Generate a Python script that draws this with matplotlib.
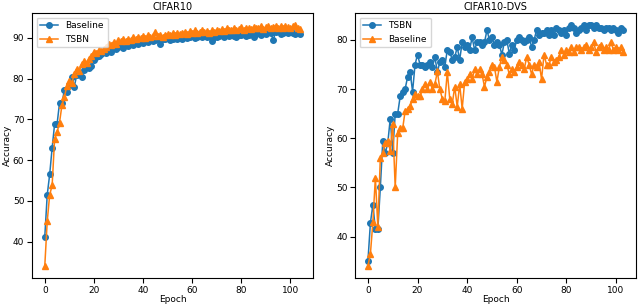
import numpy as np
import matplotlib
matplotlib.use('Agg')
import matplotlib.pyplot as plt

# CIFAR10 (left panel)
c10_baseline = [41.2, 51.5, 56.5, 63, 68.8, 68.8, 74, 74, 77.2, 76.8,
                78.5, 80.5, 78, 80.8, 81, 80.5, 82, 82.8, 82.5, 83.2,
                84.5, 85.2, 85.5, 86, 86.8, 86.2, 87, 86.5, 87.5, 87.2,
                87.8, 88, 87.5, 88.2, 88, 88.5, 88.2, 88.8, 88.5, 89,
                88.8, 89.2, 89, 89.5, 89.2, 89.4, 89.8, 88.6, 89.6, 89.8,
                90, 89.5, 89.8, 90.2, 89.7, 90, 89.6, 90.3, 90, 90.2,
                90.5, 90, 90.3, 90.6, 90.1, 90.4, 90.2, 90.6, 89.3, 90.3,
                90.1, 90.5, 90.8, 90.2, 90.6, 90.4, 90.9, 90.5, 90.2, 90.8,
                90.6, 91, 90.4, 90.8, 91.1, 90.1, 90.9, 91.2, 90.8, 91.3,
                91, 91.5, 91.2, 89.5, 91.4, 91.6, 91, 91.3, 91.5, 91.2,
                91.6, 91.3, 91, 91.5, 91]
c10_tsbn = [34, 45, 51.5, 53.8, 65.2, 66.8, 69.2, 73.5, 75.5, 78.2,
            79.5, 78.8, 81.2, 82.4, 81.8, 83.5, 84.2, 83.9, 84.8, 85.5,
            86.6, 86.2, 87, 86.8, 87.3, 87.8, 88.6, 88.2, 89, 88.6,
            89.4, 89.2, 89.6, 89.1, 89.8, 89.5, 90.1, 89.6, 90.3, 89.9,
            90.4, 90, 90.6, 90.2, 90.4, 91.4, 90.5, 90.8, 90.3, 90.7,
            91, 90.6, 91.1, 90.8, 91.3, 90.9, 91.2, 91.5, 91, 91.6,
            91.2, 91.8, 91.3, 91.5, 92, 91.4, 91.7, 91.3, 91.8, 91.5,
            92, 91.6, 92.1, 91.7, 92.3, 91.8, 92, 92.4, 91.9, 92.2,
            92.6, 92, 92.3, 92.5, 92.1, 92.7, 92.3, 92.5, 92.8, 92.2,
            92.6, 92.9, 92.4, 92.7, 93, 92.5, 92.8, 92.4, 92.9, 92.6,
            92.3, 92.8, 93.1, 92.5, 92.2]

# CIFAR10-DVS (right panel)
dvs_tsbn = [35, 42.8, 46.5, 41.5, 41.5, 50, 59.5, 57, 59, 64,
            57, 65, 65, 68.5, 69.5, 70, 72.5, 73.5, 69.5, 75,
            77, 75, 75, 74.5, 75, 75.5, 74.5, 76.5, 73.5, 75.5,
            76, 74.5, 78, 77.5, 76, 76.5, 78.5, 76, 79.5, 78.5,
            79, 78, 80.5, 78, 79.5, 79.5, 79, 79.5, 82, 80,
            80.5, 79, 79.5, 79, 77, 79.5, 80, 77.2, 79, 78,
            80, 80.5, 80, 79.5, 80, 80.5, 78.6, 80, 82, 81,
            81.5, 81.5, 82, 81, 82, 81, 82.5, 82, 81.5, 82,
            81, 82.5, 83, 82.5, 81.5, 82, 82.5, 83, 82, 83,
            83, 82.5, 83, 82.5, 82.5, 82, 82.5, 82.5, 82, 82.5,
            82, 81.5, 82.5, 82]
dvs_baseline = [34, 36.5, 43, 52, 42, 56, 57, 59, 59.5, 57.5,
                63, 50, 61, 62, 62, 65.5, 66, 66.5, 68, 69,
                68.5, 68.5, 70, 71, 70, 71.5, 70, 71, 73.6, 70,
                68, 67.5, 73.5, 68, 67, 70.5, 66.4, 71, 66, 71.5,
                72, 73, 72, 74, 73, 74, 73, 70.5, 72.5, 73.5,
                75, 74.5, 71.5, 74.5, 76.5, 76, 75, 73, 74, 73.5,
                74.5, 75.5, 75, 74, 76.5, 75, 73, 75, 74.5, 75.5,
                72, 77, 75, 75, 76.5, 75.5, 76, 76.5, 78, 77,
                78, 77.5, 78.5, 77.5, 78.5, 78.5, 78, 78.5, 79, 78,
                78.5, 79.5, 77.5, 78.5, 79, 78, 78.5, 78, 79.5, 78,
                78.5, 78, 78.5, 77.5]

plt.rcParams['font.size'] = 6.5

fig, axes = plt.subplots(1, 2, figsize=(6.4, 3.05), dpi=100)
fig.subplots_adjust(left=0.05, right=0.994, bottom=0.088, top=0.957, wspace=0.15)

ax = axes[0]
ax.plot(np.arange(len(c10_baseline)), c10_baseline, marker='o', markersize=4,
        linewidth=1.1, color='#1f77b4', label='Baseline')
ax.plot(np.arange(len(c10_tsbn)), c10_tsbn, marker='^', markersize=4,
        linewidth=1.1, color='#ff7f0e', label='TSBN')
ax.set_title("CIFAR10", fontsize=7, pad=2)
ax.set_xlabel("Epoch", labelpad=0)
ax.set_ylabel("Accuracy", labelpad=1)
ax.tick_params(labelsize=6.5, pad=2)
ax.legend(loc='upper left', fontsize=6.5)

ax = axes[1]
ax.plot(np.arange(len(dvs_tsbn)), dvs_tsbn, marker='o', markersize=4,
        linewidth=1.1, color='#1f77b4', label='TSBN')
ax.plot(np.arange(len(dvs_baseline)), dvs_baseline, marker='^', markersize=4,
        linewidth=1.1, color='#ff7f0e', label='Baseline')
ax.set_title("CIFAR10-DVS", fontsize=7, pad=2)
ax.set_xlabel("Epoch", labelpad=0)
ax.set_ylabel("Accuracy", labelpad=1)
ax.tick_params(labelsize=6.5, pad=2)
ax.legend(loc='upper left', fontsize=6.5)

fig.savefig("out.png", dpi=100)
